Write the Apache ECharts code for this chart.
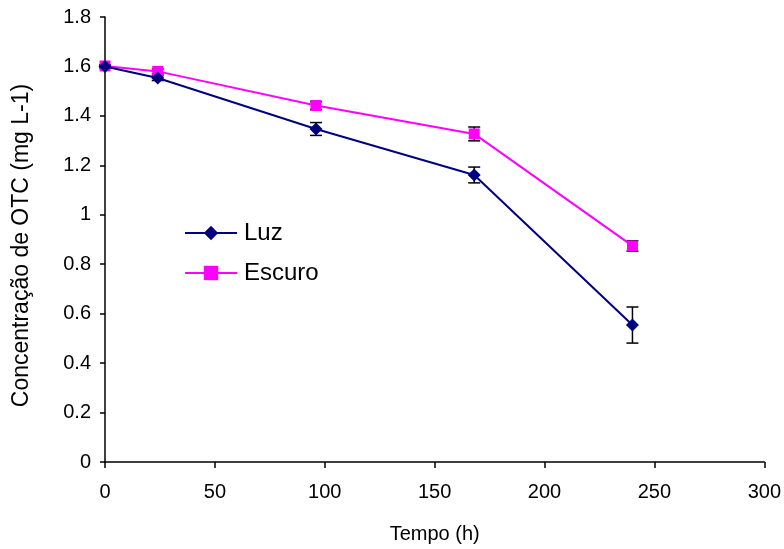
<!DOCTYPE html>
<html>
<head>
<meta charset="utf-8">
<script src="https://cdn.jsdelivr.net/npm/echarts@6/dist/echarts.min.js"></script>
<style>
  html, body { margin: 0; padding: 0; background: #fff; }
  #chart { width: 784px; height: 549px; }
</style>
</head>
<body>
<div id="chart"></div>
<script>
// time (h)
const tempo = [0, 24, 96, 168, 240]
const luz = [1.60, 1.553, 1.347, 1.161, 0.554]
const luzErr = [0.005, 0.01, 0.026, 0.032, 0.073]
const escuro = [1.602, 1.58, 1.442, 1.327, 0.874]
const escuroErr = [0.005, 0.01, 0.016, 0.028, 0.021]
const xTicks = [0, 50, 100, 150, 200, 250, 300]
const yTicks = [0, 0.2, 0.4, 0.6, 0.8, 1, 1.2, 1.4, 1.6, 1.8]

const font = 'Liberation Sans, Arial, sans-serif'

const errSeries = (vals, errs) => ({
  type: 'custom',
  silent: true,
  z: 1,
  data: tempo.map((t, i) => [t, vals[i] - errs[i], vals[i] + errs[i]]),
  renderItem: (params, api) => {
    const lo = api.coord([api.value(0), api.value(1)])
    const hi = api.coord([api.value(0), api.value(2)])
    const half = 6
    const style = { stroke: '#000', lineWidth: 1.5 }
    return {
      type: 'group',
      children: [
        { type: 'line', shape: { x1: lo[0], y1: lo[1], x2: hi[0], y2: hi[1] }, style },
        { type: 'line', shape: { x1: lo[0] - half, y1: lo[1], x2: lo[0] + half, y2: lo[1] }, style },
        { type: 'line', shape: { x1: hi[0] - half, y1: hi[1], x2: hi[0] + half, y2: hi[1] }, style },
      ],
    }
  },
})

const chart = echarts.init(document.getElementById('chart'))
chart.setOption({
  animation: false,
  textStyle: { fontFamily: font },
  grid: { left: 105, right: 18, top: 17, bottom: 87 },
  legend: {
    orient: 'vertical',
    left: 184,
    top: 221,
    padding: 0,
    itemWidth: 52,
    itemHeight: 18,
    itemGap: 16,
    textStyle: { fontSize: 24, color: '#000', fontFamily: font, padding: [0, 0, 0, 2] },
    data: ['Luz', 'Escuro'],
  },
  xAxis: {
    type: 'value',
    min: 0,
    max: 300,
    interval: 50,
    name: 'Tempo (h)',
    nameLocation: 'middle',
    nameGap: 62,
    nameTextStyle: { fontSize: 20, color: '#000' },
    axisLine: { lineStyle: { color: '#000', width: 1.5 } },
    axisTick: { inside: false, length: 6, lineStyle: { color: '#000', width: 1.5 } },
    axisLabel: { fontSize: 20, color: '#000', margin: 20,
      formatter: v => xTicks.includes(v) ? String(v) : '' },
    splitLine: { show: false },
  },
  yAxis: {
    type: 'value',
    min: 0,
    max: 1.8,
    interval: 0.2,
    name: 'Concentração de OTC (mg L-1)',
    nameLocation: 'middle',
    nameGap: 72,
    nameTextStyle: { fontSize: 23, color: '#000', padding: [0, 12, 0, 0] },
    axisLine: { show: true, lineStyle: { color: '#000', width: 1.5 } },
    axisTick: { show: true, length: 5, lineStyle: { color: '#000', width: 1.5 } },
    axisLabel: { fontSize: 20, color: '#000', margin: 14,
      formatter: v => {
        const t = yTicks.find(y => Math.abs(y - v) < 1e-6)
        return t === undefined ? '' : String(t)
      } },
    splitLine: { show: false },
  },
  series: [
    errSeries(luz, luzErr),
    errSeries(escuro, escuroErr),
    {
      name: 'Luz',
      type: 'line',
      z: 3,
      data: tempo.map((t, i) => [t, luz[i]]),
      symbol: 'diamond',
      symbolSize: 13,
      color: '#000080',
      lineStyle: { color: '#000080', width: 2 },
      itemStyle: { color: '#000080' },
    },
    {
      name: 'Escuro',
      type: 'line',
      z: 2,
      data: tempo.map((t, i) => [t, escuro[i]]),
      symbol: 'rect',
      symbolSize: 11,
      color: '#ff00ff',
      lineStyle: { color: '#ff00ff', width: 2 },
      itemStyle: { color: '#ff00ff' },
    },
  ],
})
</script>
</body>
</html>
